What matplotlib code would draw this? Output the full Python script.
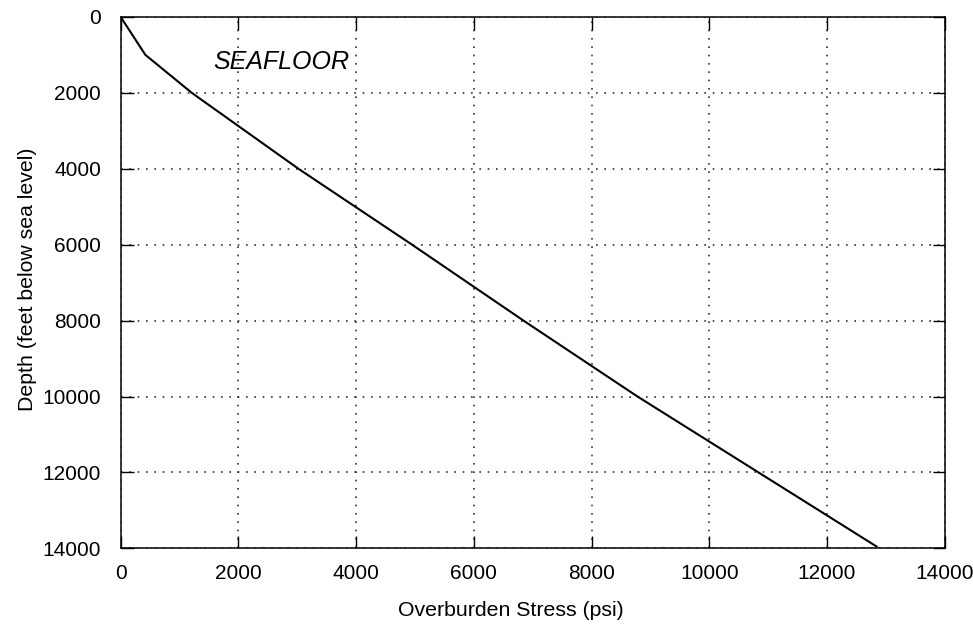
import matplotlib
matplotlib.use('Agg')
import matplotlib.pyplot as plt

plt.rcParams['font.family'] = ['Liberation Sans', 'DejaVu Sans']

# overburden stress vs depth
depth_ft = [0, 1000, 2000, 4000, 6000, 8000, 10000, 12000, 13950]
stress_psi = [0, 420, 1208, 3020, 4950, 6843, 8780, 10836, 12840]

xticks = [0, 2000, 4000, 6000, 8000, 10000, 12000, 14000]
yticks = [0, 2000, 4000, 6000, 8000, 10000, 12000, 14000]

fig = plt.figure(figsize=(9.73, 6.26), dpi=100)
ax = fig.add_axes([0.124, 0.124, 0.847, 0.849])

ax.plot(stress_psi, depth_ft, color='black', linewidth=1.5)

ax.set_xlim(0, 14000)
ax.set_ylim(14000, 0)
ax.set_xticks(xticks)
ax.set_yticks(yticks)

ax.grid(True, color='#333333', linestyle=(0, (1, 4)), linewidth=1.2)
ax.tick_params(direction='in', length=9, width=1, top=True, right=True,
               labelsize=15, colors='black')
ax.tick_params(axis='y', pad=14)
ax.tick_params(axis='x', pad=11)
for spine in ax.spines.values():
    spine.set_linewidth(1.1)
    spine.set_color('black')

ax.text(1570, 1200, 'SEAFLOOR', fontsize=18, style='italic', va='center', ha='left')

ax.set_xlabel('Overburden Stress (psi)', fontsize=15.3)
ax.set_ylabel('Depth (feet below sea level)', fontsize=15.3)
# gnuplot-style label placement (x label sits a bit left of centre)
ax.xaxis.set_label_coords(0.473, -0.099)
ax.yaxis.set_label_coords(-0.1015, 0.507)

fig.savefig('out.png', dpi=100, facecolor='white')
